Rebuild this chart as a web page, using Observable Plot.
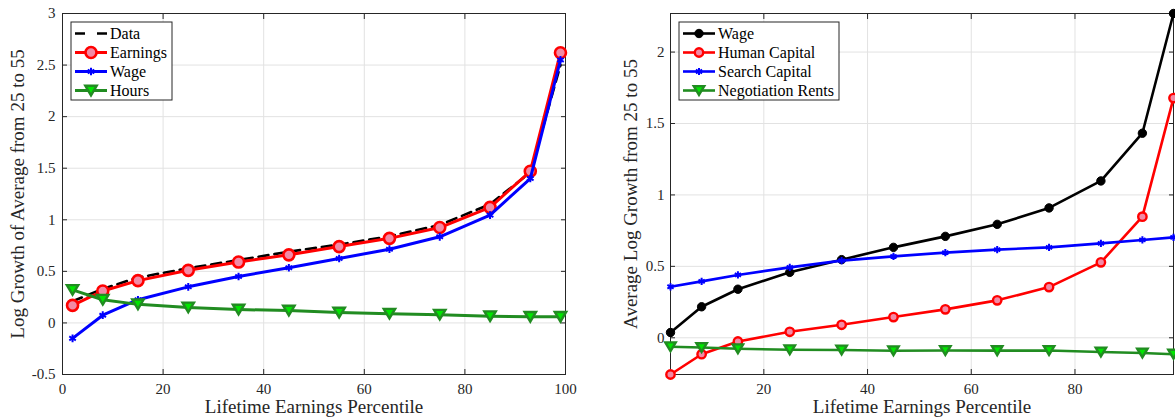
<!DOCTYPE html>
<html><head><meta charset="utf-8">
<script src="https://cdn.jsdelivr.net/npm/d3@7"></script>
<script src="https://cdn.jsdelivr.net/npm/@observablehq/plot@0.6"></script>
<style>
html,body{margin:0;padding:0;background:#fff;}
#wrap{position:relative;width:1175px;height:419px;display:flex;font-family:"Liberation Serif",serif;}
#wrap svg{display:block;}
#overlay{position:absolute;left:0;top:0;pointer-events:none;}
</style></head><body><div id="wrap"></div>
<script>
// ---- data ----
const percentiles = [2, 8, 15, 25, 35, 45, 55, 65, 75, 85, 93, 99];

// left panel
const dataL     = [0.21, 0.33, 0.44, 0.53, 0.61, 0.69, 0.76, 0.84, 0.95, 1.15, 1.46, 2.50];
const earningsL = [0.17, 0.31, 0.41, 0.51, 0.59, 0.66, 0.74, 0.82, 0.925, 1.12, 1.47, 2.62];
const wageL     = [-0.15, 0.075, 0.225, 0.35, 0.45, 0.535, 0.625, 0.715, 0.835, 1.045, 1.40, 2.55];
const hoursL    = [0.32, 0.225, 0.18, 0.15, 0.13, 0.12, 0.10, 0.09, 0.08, 0.065, 0.06, 0.06];

// right panel
const wageR   = [0.037, 0.217, 0.34, 0.458, 0.547, 0.633, 0.71, 0.794, 0.909, 1.098, 1.432, 2.27];
const humanR  = [-0.257, -0.115, -0.026, 0.042, 0.091, 0.145, 0.199, 0.262, 0.355, 0.528, 0.848, 1.678];
const searchR = [0.357, 0.395, 0.44, 0.493, 0.54, 0.57, 0.596, 0.617, 0.633, 0.661, 0.685, 0.703];
const negotR  = [-0.063, -0.068, -0.077, -0.084, -0.086, -0.091, -0.089, -0.09, -0.089, -0.10, -0.107, -0.115];

const xTicksL = [0, 20, 40, 60, 80, 100];
const yTicksL = [-0.5, 0, 0.5, 1, 1.5, 2, 2.5, 3];
const xTicksR = [20, 40, 60, 80];
const yTicksR = [0, 0.5, 1, 1.5, 2];

const xLabel = "Lifetime Earnings Percentile";
const yLabelL = "Log Growth of Average from 25 to 55";
const yLabelR = "Average Log Growth from 25 to 55";

// ---- styles ----
const RED = "#ff0000", BLUE = "#0000ff", GREEN = "#218c21", BLACK = "#000000";
const PINK = "#f28aa6", LGREEN = "#00e600";
const triDown = {draw(ctx, size){const r = Math.sqrt(size/Math.PI); ctx.moveTo(0, r*0.8); ctx.lineTo(r*0.95, -r*0.8); ctx.lineTo(-r*0.95, -r*0.8); ctx.closePath();}};

const seriesL = [
  {name:"Data", values:dataL, stroke:BLACK, dash:"10,6", sw:2.6, symbol:null},
  {name:"Earnings", values:earningsL, stroke:RED, sw:3, symbol:"circle", r:5.5, fill:PINK, msw:2.6},
  {name:"Wage", values:wageL, stroke:BLUE, sw:3, symbol:"asterisk", r:3.6, fill:"none", msw:2},
  {name:"Hours", values:hoursL, stroke:GREEN, sw:3, symbol:triDown, r:6, fill:LGREEN, msw:2.4}
];
const seriesR = [
  {name:"Wage", values:wageR, stroke:BLACK, sw:2.6, symbol:"circle", r:4.2, fill:BLACK, msw:1},
  {name:"Human Capital", values:humanR, stroke:RED, sw:2.6, symbol:"circle", r:4.2, fill:PINK, msw:2.4},
  {name:"Search Capital", values:searchR, stroke:BLUE, sw:2.6, symbol:"asterisk", r:3.4, fill:"none", msw:2},
  {name:"Negotiation Rents", values:negotR, stroke:GREEN, sw:2.6, symbol:triDown, r:5.5, fill:LGREEN, msw:2.4}
];

function panel(o){
  const marks = [
    Plot.gridX(o.xTicks, {stroke:"#e2e2e2", strokeOpacity:1}),
    Plot.gridY(o.yTicks, {stroke:"#e2e2e2", strokeOpacity:1}),
    Plot.frame({stroke:"#262626", strokeWidth:1}),
    Plot.axisX(o.xTicks, {anchor:"bottom", tickSize:0, tickPadding:9, fontSize:15, fill:"#262626", label:null, tickFormat:d=>String(d)}),
    Plot.axisX(o.xTicks, {anchor:"bottom", tickSize:-5, stroke:"#262626", tickFormat:()=>"", label:null}),
    Plot.axisX(o.xTicks, {anchor:"top", tickSize:-5, stroke:"#262626", tickFormat:()=>"", label:null}),
    Plot.axisY(o.yTicks, {anchor:"left", tickSize:0, tickPadding:o.yPad, fontSize:15, fill:"#262626", label:null, tickFormat:d=>String(d)}),
    Plot.axisY(o.yTicks, {anchor:"left", tickSize:-5, stroke:"#262626", tickFormat:()=>"", label:null}),
    Plot.axisY(o.yTicks, {anchor:"right", tickSize:-5, stroke:"#262626", tickFormat:()=>"", label:null}),
  ];
  for (const s of o.series){
    const rows = percentiles.map((p,i)=>({x:p, y:s.values[i]}));
    marks.push(Plot.line(rows, {x:"x", y:"y", stroke:s.stroke, strokeWidth:s.sw, strokeDasharray:s.dash, strokeLinejoin:"round"}));
    if (s.symbol) marks.push(Plot.dot(rows, {x:"x", y:"y", symbol:()=>s.symbol, r:s.r, stroke:s.stroke, fill:s.fill, strokeWidth:s.msw}));
  }
  marks.push(Plot.text([xLabel], {frameAnchor:"bottom", dy:38, fontSize:19, fill:"#262626", textAnchor:"middle", text:d=>d}));
  marks.push(Plot.text([o.ylabel], {frameAnchor:"left", rotate:-90, dx:o.yLabelDx, fontSize:19, fill:"#262626", textAnchor:"middle", text:d=>d}));
  return Plot.plot({
    width:o.width, height:419,
    marginLeft:o.marginLeft, marginRight:o.marginRight, marginTop:13, marginBottom:45,
    x:{domain:o.xDomain}, y:{domain:o.yDomain},
    style:{fontFamily:"Liberation Serif, serif", background:"#fff", overflow:"visible"},
    symbol:{type:"identity"},
    marks
  });
}

const allR = [].concat(wageR, humanR, searchR, negotR);
const wrap = document.getElementById("wrap");
wrap.appendChild(panel({width:600, marginLeft:62, marginRight:35, xDomain:[0,100], xTicks:xTicksL, yDomain:[-0.5,3], yTicks:yTicksL, ylabel:yLabelL, series:seriesL, yPad:7, yLabelDx:-45}));
wrap.appendChild(panel({width:575, marginLeft:70, marginRight:2, xDomain:[2,99], xTicks:xTicksR, yDomain:d3.extent(allR), yTicks:yTicksR, ylabel:yLabelR, series:seriesR, yPad:6, yLabelDx:-40}));

// ---- legends ----
const ov = d3.select(wrap).append("svg").attr("id","overlay").attr("width",1175).attr("height",419);
function legend(series, x0, y0, w){
  const g = ov.append("g");
  g.append("rect").attr("x",x0).attr("y",y0).attr("width",w).attr("height",78).attr("fill","#fff").attr("stroke","#262626").attr("stroke-width",1);
  series.forEach((s,i)=>{
    const cy = y0 + 11.5 + i*19;
    g.append("line").attr("x1",x0+4).attr("x2",x0+36).attr("y1",cy).attr("y2",cy).attr("stroke",s.stroke).attr("stroke-width",s.sw).attr("stroke-dasharray", s.dash ? "10,12" : null);
    if (s.symbol){
      const type = typeof s.symbol === "string" ? (s.symbol === "circle" ? d3.symbolCircle : d3.symbolAsterisk) : s.symbol;
      g.append("path").attr("d", d3.symbol(type, Math.PI*s.r*s.r)()).attr("transform",`translate(${x0+20},${cy})`).attr("fill",s.fill).attr("stroke",s.stroke).attr("stroke-width",s.msw);
    }
    g.append("text").attr("x",x0+39).attr("y",cy).attr("dy","0.35em").attr("font-size",16).attr("fill","#000").attr("font-family","Liberation Serif, serif").text(s.name);
  });
}
legend(seriesL, 71, 22, 101);
legend(seriesR, 679, 22, 160);
</script></body></html>
